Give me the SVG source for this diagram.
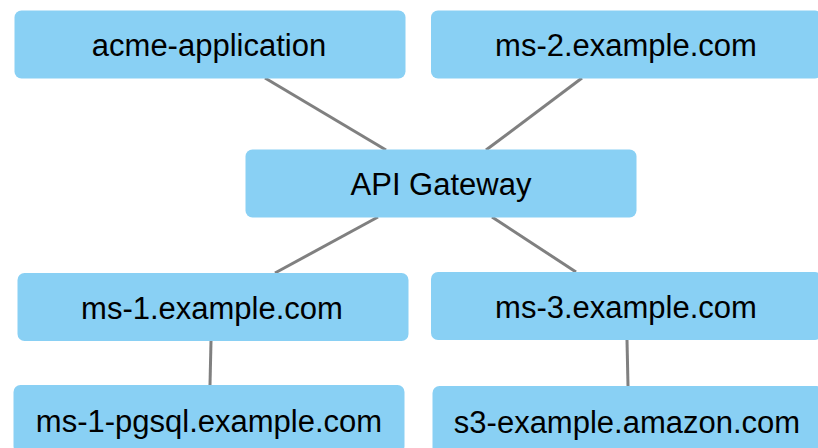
<svg xmlns="http://www.w3.org/2000/svg" width="818" height="448" viewBox="0 0 818 448">
<style>
.box{fill:#89d0f4;}
.lbl{font-family:"Liberation Sans",Arial,sans-serif;font-size:31px;fill:#000;text-anchor:middle;}
.edge{stroke:#808080;stroke-width:3;fill:none;}
</style>
<rect width="818" height="448" fill="#ffffff"/>
<g id="connectors">
<line class="edge" x1="265" y1="78" x2="386" y2="150"/>
<line class="edge" x1="582" y1="78" x2="486" y2="150"/>
<line class="edge" x1="378" y1="217" x2="275" y2="273"/>
<line class="edge" x1="492" y1="217" x2="576" y2="272"/>
<line class="edge" x1="211" y1="341" x2="210" y2="385"/>
<line class="edge" x1="627" y1="340" x2="628" y2="386"/>
</g>
<g id="acme-application">
<rect class="box" x="14.5" y="10.5" width="391" height="68" rx="7"/>
<text class="lbl" x="209" y="56">acme-application</text>
</g>
<g id="ms-2">
<rect class="box" x="431" y="10.5" width="391" height="68" rx="7"/>
<text class="lbl" x="626" y="56">ms-2.example.com</text>
</g>
<g id="api-gateway">
<rect class="box" x="245.5" y="149.5" width="391" height="68" rx="7"/>
<text class="lbl" x="441" y="195">API Gateway</text>
</g>
<g id="ms-1">
<rect class="box" x="17.5" y="273" width="391" height="68" rx="7"/>
<text class="lbl" x="212" y="319">ms-1.example.com</text>
</g>
<g id="ms-3">
<rect class="box" x="431" y="272" width="391" height="68" rx="7"/>
<text class="lbl" x="626" y="318">ms-3.example.com</text>
</g>
<g id="ms-1-pgsql">
<rect class="box" x="13.5" y="385" width="391" height="68" rx="7"/>
<text class="lbl" x="209" y="431.5">ms-1-pgsql.example.com</text>
</g>
<g id="s3">
<rect class="box" x="432.5" y="386" width="391" height="68" rx="7"/>
<text class="lbl" x="627" y="432.5">s3-example.amazon.com</text>
</g>
</svg>
